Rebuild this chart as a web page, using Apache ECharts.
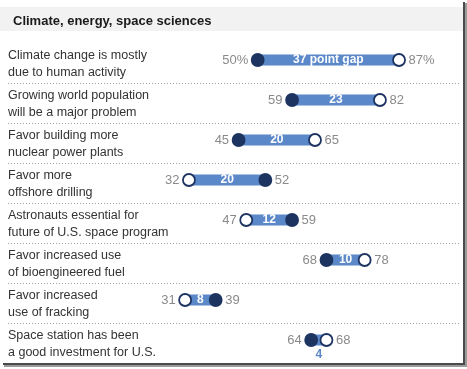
<!DOCTYPE html>
<html>
<head>
<meta charset="utf-8">
<script src="https://cdn.jsdelivr.net/npm/echarts@6/dist/echarts.min.js"></script>
<style>
html,body{margin:0;padding:0;background:#fff;}
#chart{width:467px;height:369px;}
</style>
</head>
<body>
<div id="chart"></div>
<script>
const titleText = "Climate, energy, space sciences";
const categories = [
  "Climate change is mostly\ndue to human activity",
  "Growing world population\nwill be a major problem",
  "Favor building more\nnuclear power plants",
  "Favor more\noffshore drilling",
  "Astronauts essential for\nfuture of U.S. space program",
  "Favor increased use\nof bioengineered fuel",
  "Favor increased\nuse of fracking",
  "Space station has been\na good investment for U.S."
];
const darkValues = [50, 59, 45, 52, 59, 68, 39, 64];
const openValues = [87, 82, 65, 32, 47, 78, 31, 68];
const gapLabels = ["37 point gap", "23", "20", "20", "12", "10", "8", "4"];
const valueSuffix = ["%", "", "", "", "", "", "", ""];

const NAVY = '#1d3461';
const BAR = '#5b88c8';
const FONT = '"Liberation Sans", Arial, sans-serif';

const chart = echarts.init(document.getElementById('chart'));
const seriesData = darkValues.map((d, i) => [d, openValues[i], i]);

function renderItem(params, api) {
  const i = api.value(2);
  const dark = api.value(0), open = api.value(1);
  const pd = api.coord([dark, i]);
  const po = api.coord([open, i]);
  const cy = pd[1];
  const xl = Math.min(pd[0], po[0]);
  const xr = Math.max(pd[0], po[0]);
  const lo = Math.min(dark, open), hi = Math.max(dark, open);
  const children = [];
  if (i < categories.length - 1) {
    children.push({
      type: 'line',
      shape: {x1: 8, y1: Math.round(cy + 22.7) + 0.5, x2: 460, y2: Math.round(cy + 22.7) + 0.5},
      style: {stroke: '#9c9c9c', lineWidth: 1, lineDash: [1, 2]}
    });
  }
  children.push({
    type: 'text',
    x: 8, y: cy + 4,
    style: {text: categories[i], font: '12.5px ' + FONT, fill: '#333', verticalAlign: 'middle', align: 'left', lineHeight: 17}
  });
  children.push({
    type: 'rect',
    shape: {x: xl, y: cy - 5.5, width: xr - xl, height: 11},
    style: {fill: BAR}
  });
  children.push({
    type: 'circle',
    shape: {cx: pd[0], cy: cy, r: 6.9},
    style: {fill: NAVY}
  });
  children.push({
    type: 'circle',
    shape: {cx: po[0], cy: cy, r: 6.0},
    style: {fill: '#fff', stroke: NAVY, lineWidth: 1.8}
  });
  children.push({
    type: 'text',
    x: xl - 9.5, y: cy,
    style: {text: lo + valueSuffix[i], font: '13px ' + FONT, fill: '#8a8a8a', align: 'right', verticalAlign: 'middle'}
  });
  children.push({
    type: 'text',
    x: xr + 9.5, y: cy,
    style: {text: hi + valueSuffix[i], font: '13px ' + FONT, fill: '#8a8a8a', align: 'left', verticalAlign: 'middle'}
  });
  const small = (xr - xl) < 20;
  children.push({
    type: 'text',
    x: (xl + xr) / 2, y: small ? cy + 15 : cy,
    style: {text: gapLabels[i], font: 'bold 12px ' + FONT, fill: small ? BAR : '#fff', align: 'center', verticalAlign: 'middle'}
  });
  return {type: 'group', children: children};
}

chart.setOption({
  animation: false,
  backgroundColor: '#fff',
  title: {
    text: titleText, left: 8, top: 10,
    textStyle: {fontFamily: FONT, fontSize: 13, fontWeight: 'bold', color: '#1a1a1a'}
  },
  graphic: [
    {type: 'rect', shape: {x: 0, y: 7, width: 463, height: 24}, style: {fill: '#f2f2f2'}, z: -10},
    {type: 'rect', shape: {x: 463, y: 2, width: 2, height: 365}, style: {fill: '#4a4a4a'}, z: 10},
    {type: 'rect', shape: {x: 465, y: 3, width: 2, height: 364}, style: {fill: '#9a9a9a'}, z: 10},
    {type: 'rect', shape: {x: 3, y: 363, width: 462, height: 2}, style: {fill: '#4a4a4a'}, z: 10},
    {type: 'rect', shape: {x: 4, y: 365, width: 463, height: 2}, style: {fill: '#9a9a9a'}, z: 10}
  ],
  grid: {left: 66.7, right: 18.3, top: 40, bottom: 9},
  xAxis: {type: 'value', min: 0, max: 100, show: false},
  yAxis: {type: 'category', data: categories, inverse: true, show: false},
  series: [{
    type: 'custom',
    renderItem: renderItem,
    data: seriesData,
    encode: {x: [0, 1], y: 2}
  }]
});
</script>
</body>
</html>
